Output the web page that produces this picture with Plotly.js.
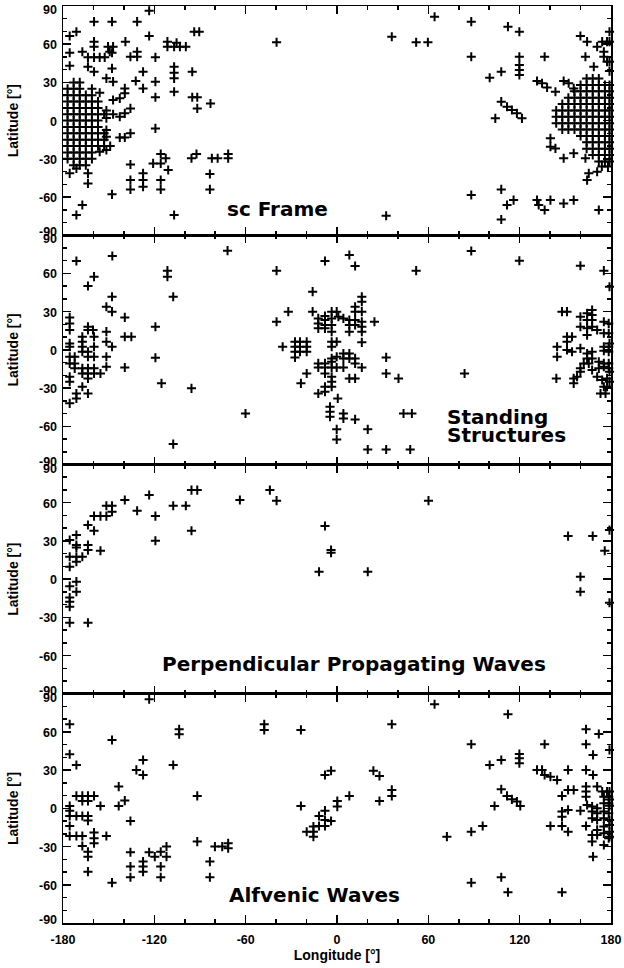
<!DOCTYPE html>
<html>
<head>
<meta charset="utf-8">
<script src="https://cdn.plot.ly/plotly-3.0.1.min.js"></script>
<style>html,body{margin:0;padding:0;background:#fff;}#chart{width:624px;height:968px;}</style>
</head>
<body>
<div id="chart"></div>
<script>
// ---------- DATA: [longitude, latitude] pairs ----------
const lonTicks = [-180, -120, -60, 0, 60, 120, 180];
const lonTickText = ['-180', '-120', '-60', '0', '60', '120', '180'];
const latTicks = [-90, -60, -30, 0, 30, 60, 90];
const latTickText = ['-90', '-60', '-30', '0', '30', '60', '90'];
const panelLabels = ['sc Frame', 'Standing', 'Structures', 'Perpendicular Propagating Waves', 'Alfvenic Waves'];

const scFrameScatter = [
[-123.4,86.3],[-159.6,77.7],[-147.8,77.7],[-131.3,77.7],[-175.6,66.4],[-171.2,69.8],[-93.8,69.8],[-90.5,69.8],
[-159.6,62],[-159.6,58.1],[-139,62],[-123.4,66.4],[-111.4,62],[-105.4,61.2],[-111.4,58.1],[-107,58.1],[-103.2,58.1],[-99.3,58.1],
[-150.4,58.1],[-147.1,58.1],[-149.3,54.1],[-175.6,53.3],[-167.3,54.1],[-163.6,49.7],[-159.6,49.7],[-155.9,49.7],[-152.6,49.7],
[-147.8,53.3],[-135.7,50.2],[-131.3,54.1],[-131.3,50.2],[-119.3,49.7],[-175.6,43.1],[-163.6,42.3],[-159.6,38.4],[-147.8,41],
[-107,42.3],[-107,37.6],[-107,33.2],[-95.1,38.4],[-127.4,38.4],[-151.5,33.2],[-147.1,30.6],[-132.2,31.1],[-127.4,25.3],[-119.3,30.6],
[-139.4,25.3],[-139.4,21.4],[-119.3,18.3],[-107,22.7],[-155.9,21.9],[-147.1,16.2],[-142.7,17.5],[-95.1,18.3],[-91.8,18.3],[-91.8,9.6],[-83.1,13.5],
[-151.5,8],[-147.1,5],[-142.7,3],[-151.5,2],[-135.7,9.6],[-139.4,5.7],[-119.3,-6.1],[-142.7,-13.2],[-139.4,-13.2],[-135.7,-10],[-151.5,-7.4],[-151.5,-12.6],
[-155.9,-24.4],[-151.5,-23.1],
[-115.8,-26.2],[-112.5,-29.6],[-115.8,-33.6],[-120.8,-33.6],[-110.9,-38.8],[-135.7,-34.4],[-127.4,-41.4],[-127.4,-46.7],[-135.7,-46.7],[-135.7,-54],[-127.4,-51.9],[-115.8,-46.7],[-115.8,-54],[-147.8,-57.9],
[-95.6,-29.6],[-92.3,-26.2],[-82.2,-29.6],[-78.4,-29.6],[-71.5,-26.2],[-71.5,-29.6],[-83.5,-41.9],[-83.5,-54],[-107,-74.1],[-171.2,-74.1],[-167.3,-66.3],[-175.6,-41.4],[-171.2,-37.5],[-163.6,-41.4],[-163.6,-49.3],
[-39.7,61.5],[36,65.9],[52,61.5],[59.7,61.5],[64.1,81.6],[32.3,-74.7],
[88.2,77.7],[112.3,73.8],[119.8,69.8],[88.2,50.2],[119.8,50.2],[119.8,43.7],[119.8,39.7],[119.8,35.8],[136.4,50.2],[100.3,33.7],[107.9,38.4],
[159.9,66.4],[164.3,62],[163.2,50.2],[170.9,58.1],[174.2,62],[177.4,62],[179,62],[179,69.8],[175.3,54.1],[175.3,50.2],[177.4,46.3],[179,46.3],[168.7,42.3],[179,38.9],
[131.4,31.1],[134.7,29.3],[138,26.1],[143.5,22.7],[148.9,31.1],[152.2,29.3],[155.5,25.3],
[107.9,14.9],[111.7,10.9],[114.9,8.3],[118.2,5.7],[121.5,1.8],[104,1.8],
[140.2,-13.9],[140.2,-20.5],[143.5,-21.8],[148.9,-29.6],[155.5,-25.7],[163.2,-29.6],[165.4,-41.4],[170.9,-40.1],[164.3,-46.7],
[88.2,-58.4],[107.9,-54],[111.7,-66.3],[116,-62.4],[107.9,-77.6],[131.4,-62.4],[132.5,-66.3],[136.4,-70.2],[140.2,-62.4],[148.9,-65],[155.5,-62.4],[172,-70.2]
];

const scFrameWestCore = [
[-173,30],[-169,30],
[-177,25],[-173,25],[-169,25],[-161,25],
[-177,20],[-173,20],[-169,20],[-165,20],[-161,20],
[-177,15],[-173,15],[-169,15],[-165,15],[-161,15],[-157,15],
[-177,10],[-173,10],[-169,10],[-165,10],[-161,10],[-157,10],
[-177,5],[-173,5],[-169,5],[-165,5],[-161,5],[-157,5],[-153,5],
[-177,0],[-173,0],[-169,0],[-165,0],[-161,0],[-157,0],
[-177,-5],[-173,-5],[-169,-5],[-165,-5],[-161,-5],[-157,-5],
[-177,-10],[-173,-10],[-169,-10],[-165,-10],[-161,-10],[-157,-10],[-153,-10],
[-177,-15],[-173,-15],[-169,-15],[-165,-15],[-161,-15],[-157,-15],[-153,-15],
[-177,-20],[-173,-20],[-169,-20],[-165,-20],[-161,-20],[-157,-20],[-153,-20],[-149,-20],
[-177,-25],[-173,-25],[-169,-25],[-165,-25],[-161,-25],
[-177,-30],[-173,-30],[-169,-30],[-165,-30],[-161,-30],
[-173,-35],[-169,-35],[-165,-35]
];

const scFrameEastCore = [
[164,33],[168,33],[172,33],
[160,28],[164,28],[168,28],[172,28],[176,28],[179,28],
[156,23],[160,23],[164,23],[168,23],[172,23],[176,23],[179,23],
[152,18],[156,18],[160,18],[164,18],[168,18],[172,18],[176,18],[179,18],
[148,13],[152,13],[156,13],[160,13],[164,13],[168,13],[172,13],[176,13],[179,13],
[144,8],[148,8],[152,8],[156,8],[160,8],[164,8],[168,8],[172,8],[176,8],[179,8],
[144,3],[148,3],[152,3],[156,3],[160,3],[164,3],[168,3],[172,3],[176,3],[179,3],
[144,-2],[148,-2],[152,-2],[156,-2],[160,-2],[164,-2],[168,-2],[172,-2],[176,-2],[179,-2],
[148,-7],[152,-7],[156,-7],[160,-7],[164,-7],[168,-7],[172,-7],[176,-7],[179,-7],
[160,-12],[164,-12],[168,-12],[172,-12],[176,-12],[179,-12],
[164,-17],[168,-17],[172,-17],[176,-17],[179,-17],
[164,-22],[168,-22],[172,-22],[176,-22],[179,-22],
[168,-27],[172,-27],[176,-27],[179,-27],
[172,-32],[176,-32],[179,-32],
[174,-36],[178,-36]
];

const standingStructures = [
[-171.2,69.8],[-147.6,73.7],[-159.6,57.5],[-163.6,50.1],[-147.8,41.7],[-151.5,33.9],[-147.8,30],[-139.4,25.5],[-71.9,77.9],
[-111.4,62.2],[-111.4,57.5],[-107.6,41.7],[-119.3,18.2],[-139.4,10.3],[-135.1,10.3],[-119.3,-6.2],[-139.4,-13.8],[-115.3,-26.3],
[-95.6,-30.2],[-60.1,-49.9],[-107.6,-74],
[-175.6,25.5],[-175.6,20.8],[-175.6,15.6],[-175.6,5.1],[-175.6,2.5],[-175.6,-5.4],[-175.6,-10.6],[-175.6,-21.1],[-175.6,-25],[-175.6,-42],
[-172.3,-5.4],[-172.3,-10.6],[-172.3,-14.5],[-171.2,-34.2],[-171.2,-38.1],
[-167.3,10.3],[-167.3,6.4],[-167.3,2.5],[-167.3,-1.5],[-167.3,-14.5],[-167.3,-18.5],[-167.3,-28.9],
[-163.6,18.2],[-163.6,15.6],[-163.6,-1.5],[-163.6,-5.4],[-163.6,-14.5],[-163.6,-18.5],[-163.6,-22.4],[-163.6,-34.2],
[-160.3,15.6],[-159.6,10.3],[-159.6,2.5],[-159.6,-5.4],[-159.6,-14.5],[-159.6,-18.5],[-155.4,-18.5],
[-151.5,14.3],[-151.5,6.4],[-151.5,-5.4],[-151.5,-13.2],[-147.8,2.5],
[-39.7,62.2],[-7.9,69.8],[8.1,74.5],[11.9,65.8],[52,62.2],[-16,45.7],[-32,30],[-39.7,22.1],[-16,30],
[16.3,41.7],[16.3,37.8],[16.3,30],[11.9,33.9],[11.9,30],[-3.5,30],[-0.2,30],[-7.9,26.6],[-12.3,24.7],[-7.9,23.4],[-3.5,24.7],[0.9,26],[4.2,24.7],
[-12.3,20.8],[-7.9,19.5],[-3.5,19.5],[-12.3,16.9],[-7.9,16.9],[8.1,23.4],[11.9,23.4],[16.3,22.1],[8.1,19.5],[11.9,19.5],[16.3,18.2],[24.6,22.1],
[-3.5,14.3],[8.1,14.3],[16.3,14.3],[-3.5,6.4],[-0.2,6.4],[-3.5,2.5],[16.3,5.9],
[-27.6,6.4],[-24.3,6.4],[-19.9,6.4],[-27.6,2.5],[-24.3,2.5],[-19.9,2.5],[-27.6,-1.5],[-24.3,-1.5],[-19.9,-1.5],[-27.6,-5.9],[-35.7,2.5],
[4.2,-2.8],[8.1,-2.8],[-3.5,-6.7],[-0.2,-5.4],[4.2,-6.7],[8.1,-6.7],[11.9,-6.7],
[-12.3,-10.6],[-7.9,-10.6],[-12.3,-13.8],[-7.9,-13.8],[-3.5,-9.3],[-3.5,-13.8],[-0.2,-13.8],[4.2,-13.8],[11.9,-10.6],[16.3,-13.8],
[-19.9,-18.5],[-23.7,-26.3],[-7.9,-18.5],[-3.5,-21.1],[-3.5,-25],[-3.5,-28.9],[-7.9,-28.9],[-12.3,-34.2],[-7.9,-32.9],[8.1,-22.4],[11.9,-22.4],
[32.3,-5.9],[32.3,-18.5],[40.4,-22.4],[0.5,-38.1],[-4.6,-44.6],[-4.6,-48.6],[-4.6,-52.5],[4.2,-49.9],[4.2,-53.8],[11.9,-54.6],
[-0.2,-62.4],[-0.2,-70.3],[20.2,-62.4],[43.7,-49.9],[49.2,-49.9],[20.2,-78.2],[32.3,-78.2],[48.1,-78.2],
[88.2,77.6],[119.8,70],[159.9,66.1],[175.3,62.2],[179,49.6],[83.8,-18.5],
[147.8,30],[151.1,30],[159.9,26],[164.3,28.7],[167.6,31.3],[167.6,27.3],[164.3,23.4],[167.6,23.4],[175.3,22.1],[178.5,20.8],
[159.9,18.2],[164.3,16.9],[167.6,18.2],[170.9,15.6],[175.3,13],[178.5,13],[151.1,10.3],[154.4,10.3],[151.1,6.4],[164.3,11.6],
[144.6,2.5],[144.6,-5.4],[151.1,-0.1],[154.4,-1.5],[159.9,1.2],[164.3,-2.8],[167.6,-1.5],
[175.3,2.5],[178.5,2.5],[175.3,-0.7],[178.5,-1.5],[179,5.1],
[164.3,-6.7],[167.6,-6.7],[162.1,-10.6],[165.4,-10.6],[172,-9.3],[175.3,-10.6],[178.5,-10.6],
[159.9,-14.5],[167.6,-15.8],[172,-14.5],[175.3,-13.2],[178.5,-14.5],[179,-17.2],[159.9,-17.2],
[170.9,-21.1],[174.2,-23.7],[177.4,-22.4],[179,-25],[175.3,-28.9],[177.4,-28.9],[173.1,-34.2],[176.4,-34.2],
[144.1,-22.4],[155.5,-22.4],[155.5,-26.3],[157.7,-21.1]
];

const perpendicularWaves = [
[-139.4,62.1],[-123.4,66],[-95.6,69.9],[-91.8,69.9],[-63.8,62.1],[-131.3,53.7],[-119.3,49.5],[-107.6,57.6],[-99.3,57.6],
[-95.6,38],[-119.3,30.1],[-151.5,57.6],[-147.8,57.6],[-147.8,52.9],[-159.6,49.5],[-155.4,49.5],[-151.5,49.5],
[-163.6,42.5],[-159.6,38],[-175.6,30.7],[-171.2,34.6],[-171.2,26.7],[-171.2,24.9],[-163.6,26.7],[-163.6,22.8],[-155.4,22.3],
[-175.6,17.6],[-171.2,17.6],[-167.3,17.6],[-171.2,13.7],[-175.6,9.7],[-171.2,-2],[-175.6,-5.5],[-171.2,-9.9],
[-175.6,-14.4],[-175.6,-17.8],[-175.6,-21.7],[-175.6,-34.2],[-163.6,-34.2],
[-44.1,69.9],[-39.7,61.6],[60.1,61.6],[-7.9,41.7],[-3.9,22.8],[-3.9,20.7],[-11.8,5.8],[20.2,5.8],
[151.8,33.8],[168,33.8],[179,38.5],[175.9,22.3],[159.9,1.9],[159.9,-9.9],[179,-18.5]
];

const alfvenicWaves = [
[-123.4,85.7],[-175.6,66],[-147.8,53.7],[-103.7,62.1],[-103.7,58.2],[-175.6,42.5],[-171.2,34.1],[-127.4,38],[-131.8,30.2],[-127.4,26.2],
[-107.6,34.1],[-143.4,17.1],[-143.4,1.9],[-139.4,6.1],[-91.8,9.8],
[-171.2,9.8],[-167.3,9.8],[-163.6,9.8],[-159.6,9.8],[-167.3,5.8],[-163.6,5.8],[-155.4,1.9],
[-175.6,1.9],[-175.6,-1.8],[-175.6,-6],[-171.2,-6],[-167.3,-6],[-163.6,-6],[-163.6,-9.6],[-135.7,-9.9],[-175.6,-13.8],
[-175.6,-21.7],[-171.2,-21.7],[-167.3,-21.7],[-159.6,-19],[-159.6,-23.5],[-159.6,-27.4],[-151.5,-21.7],
[-167.3,-29.5],[-163.6,-34],[-163.6,-37.9],[-163.6,-49.7],
[-135.7,-34.5],[-135.7,-45.7],[-135.7,-54.1],[-127.4,-41.8],[-127.4,-45.7],[-127.4,-49.7],
[-123.4,-34.5],[-119.7,-37.9],[-115.8,-34],[-112,-30],[-112,-37.9],[-115.8,-45.7],[-115.8,-54.1],[-147.8,-58.3],
[-91.8,-26.1],[-83.5,-41.8],[-83.5,-54.1],[-80.2,-30],[-75.4,-30],[-71.5,-27.4],[-71.5,-31.3],
[-47.8,66],[-47.8,61.6],[-23.7,61.6],[36,66],[64.1,81.7],[-7.9,26.2],[-3.9,29.6],[23.9,29.6],[27.9,25.5],
[36,14.5],[36,9.8],[8.1,9.8],[0.2,5.8],[0.2,1.4],[27.9,5.8],[-23.7,1.9],
[-7.9,-1.8],[-11.8,-6],[-7.9,-9.1],[-3.9,-9.9],[-11.8,-13.8],[-7.9,-13.8],[-15.5,-14.3],[-19.9,-18.3],[-15.5,-18.3],[-15.5,-22.2],
[112.3,73.9],[88.2,50.3],[136.4,50.3],[163.6,62.1],[172,58.4],[163.6,50.3],[168.2,42],[179,45.9],
[100.3,34.1],[107.9,38],[119.8,42.7],[119.8,39.3],[119.8,35.4],
[131.4,30.2],[134.7,30.2],[136.4,26.2],[140.2,24.9],[144.6,22.3],[151.8,30.2],[163.6,30.2],[168.2,26.2],
[107.9,15],[111.7,9.8],[114.9,7.1],[118.2,5.3],[120.4,1.9],[103.5,1.9],
[147.8,9.8],[151.8,14.5],[155.5,14.5],[163.6,17.1],[163.6,13.2],[163.6,9.2],[170.9,17.1],
[174.2,13.2],[177.4,13.2],[179,13.2],[175.3,9.2],[178.5,9.2],[179,7],
[164.3,2.7],[167.6,1.4],[170.9,0.1],[175.3,4],[178.5,4],[179,2],
[147.8,-2.5],[151.8,-1.2],[147.8,-6.5],[159.9,-1.8],[167.6,-2.5],[170.9,-3.9],[175.3,-2.5],[178.5,-3.9],
[167.6,-7.8],[170.9,-9.1],[175.3,-7.8],[179,-9.1],
[140.2,-13.8],[147.8,-13.8],[151.8,-18.3],[163.6,-13.8],[170.9,-16.9],[175.3,-14.3],[179,-13],
[167.6,-20.9],[170.9,-20.9],[175.3,-19.6],[179,-18.3],[167.6,-26.1],[175.3,-28.7],[178.5,-23.5],[179,-22.2],[168.2,-37.9],
[88.2,-18.3],[95.7,-13.8],[72.2,-22.2],[88.2,-58.3],[107.9,-54.1],[112.3,-65.9],[147.8,-65.9]
];

// ---------- FIGURE ----------
const panels = [
  scFrameScatter.concat(scFrameWestCore, scFrameEastCore),
  standingStructures,
  perpendicularWaves,
  alfvenicWaves
];

const FONT = 'Liberation Sans';
const ANNFONT = 'DejaVu Sans';
const traces = panels.map((pts, i) => ({
  type: 'scatter', mode: 'markers',
  x: pts.map(p => p[0]), y: pts.map(p => p[1]),
  xaxis: i === 0 ? 'x' : 'x' + (i + 1),
  yaxis: i === 0 ? 'y' : 'y' + (i + 1),
  marker: {symbol: 'cross-thin', size: 6.5, color: 'black', line: {width: 2, color: 'black'}},
  cliponaxis: false, hoverinfo: 'skip', showlegend: false
}));

const tickFont = {family: FONT, size: 12.5, color: 'black', weight: 'bold'};
const titleFont = {family: FONT, size: 14, color: 'black', weight: 'bold'};

const layout = {
  width: 624, height: 968,
  margin: {l: 63, r: 13, t: 6, b: 45},
  paper_bgcolor: 'white', plot_bgcolor: 'white',
  font: {family: FONT, color: 'black'},
  annotations: []
};

const domains = [[0.75, 1], [0.5, 0.75], [0.25, 0.5], [0, 0.25]];
for (let i = 0; i < 4; i++) {
  const sfx = i === 0 ? '' : String(i + 1);
  const bottom = i === 3;
  layout['xaxis' + sfx] = {
    domain: [0, 1], range: [-180, 180], anchor: 'y' + sfx,
    tickmode: 'array', tickvals: lonTicks, ticktext: lonTickText,
    showticklabels: bottom, tickfont: tickFont, ticklabelstandoff: 4,
    ticks: 'inside', ticklen: 8, tickwidth: 1.5, tickcolor: 'black',
    minor: {dtick: 20, tick0: -180, ticks: 'inside', ticklen: 4, tickwidth: 1.5, tickcolor: 'black', showgrid: false},
    showline: true, linewidth: 1.5, linecolor: 'black', mirror: 'ticks',
    showgrid: false, zeroline: false, fixedrange: true,
    title: bottom ? {text: 'Longitude [°]', font: titleFont, standoff: 4} : {text: ''}
  };
  layout['yaxis' + sfx] = {
    domain: domains[i], range: [-90, 90], anchor: 'x' + sfx,
    tickmode: 'array', tickvals: latTicks, showticklabels: false,
    ticks: 'inside', ticklen: 8, tickwidth: 1.5, tickcolor: 'black',
    minor: {dtick: 10, tick0: -90, ticks: 'inside', ticklen: 4, tickwidth: 1.5, tickcolor: 'black', showgrid: false},
    showline: true, linewidth: 1.5, linecolor: 'black', mirror: 'ticks',
    showgrid: false, zeroline: false, fixedrange: true,
    title: {text: 'Latitude [°]', font: titleFont, standoff: 39}
  };
  // latitude tick labels, nudged at the panel edges like the original
  latTicks.forEach((v, k) => {
    layout.annotations.push({
      xref: 'paper', yref: 'y' + sfx, x: 0, y: v, text: latTickText[k],
      showarrow: false, xanchor: 'right', yanchor: 'middle', xshift: -4,
      yshift: v === 90 ? -4 : (v === -90 ? 3 : -1), font: tickFont
    });
  });
}

const annFont = {family: ANNFONT, size: 20, color: 'black', weight: 'bold'};
layout.annotations.push(
  {xref: 'x', yref: 'y', x: -39, y: -69, text: panelLabels[0], showarrow: false, xanchor: 'center', yanchor: 'middle', font: annFont},
  {xref: 'x2', yref: 'y2', x: 71, y: -53, text: panelLabels[1], showarrow: false, xanchor: 'left', yanchor: 'middle', font: annFont},
  {xref: 'x2', yref: 'y2', x: 71, y: -67, text: panelLabels[2], showarrow: false, xanchor: 'left', yanchor: 'middle', font: annFont},
  {xref: 'x3', yref: 'y3', x: 11, y: -67, text: panelLabels[3], showarrow: false, xanchor: 'center', yanchor: 'middle', font: annFont},
  {xref: 'x4', yref: 'y4', x: -15, y: -68, text: panelLabels[4], showarrow: false, xanchor: 'center', yanchor: 'middle', font: annFont}
);

Plotly.newPlot('chart', traces, layout, {staticPlot: true, displayModeBar: false});
</script>
</body>
</html>
